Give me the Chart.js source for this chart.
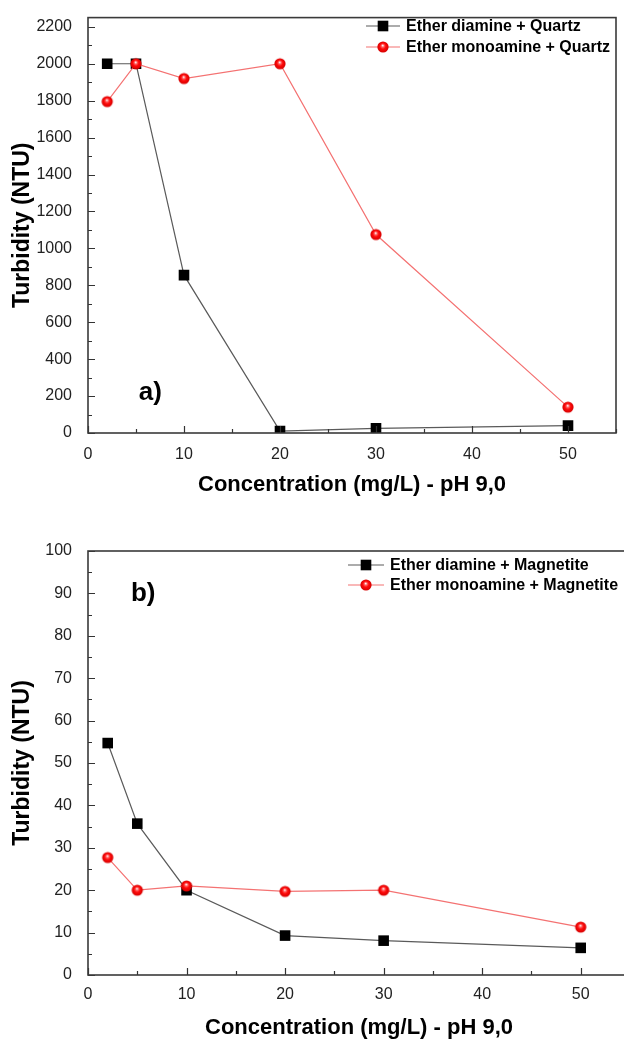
<!DOCTYPE html>
<html><head><meta charset="utf-8">
<script src="https://cdn.jsdelivr.net/npm/chart.js@4"></script>
<style>
html,body{margin:0;padding:0;background:#fff;overflow:hidden;width:624px;height:1039px;}
#wa{position:absolute;left:0;top:0;width:624px;height:520px;overflow:hidden;}
#wb{position:absolute;left:0;top:520px;width:640px;height:540px;}
</style></head><body>
<div id="wa"><canvas id="ca" width="624" height="520"></canvas></div>
<div id="wb"><canvas id="cb" width="640" height="540"></canvas></div>
<script>
// ---- data ----
const concentrations = [2, 5, 10, 20, 30, 50];
const quartzDiamine = [2000, 2000, 855, 10, 25, 40];
const quartzMonoamine = [1795, 2000, 1920, 2000, 1075, 140];
const magnetiteDiamine = [54.7, 35.7, 20.0, 9.3, 8.1, 6.4];
const magnetiteMonoamine = [27.7, 20.0, 21.0, 19.7, 20.0, 11.3];
const seriesLabelsA = ['Ether diamine + Quartz', 'Ether monoamine + Quartz'];
const seriesLabelsB = ['Ether diamine + Magnetite', 'Ether monoamine + Magnetite'];
const xTickValues = [0, 10, 20, 30, 40, 50];
const yTickValuesA = [0, 200, 400, 600, 800, 1000, 1200, 1400, 1600, 1800, 2000, 2200];
const yTickValuesB = [0, 10, 20, 30, 40, 50, 60, 70, 80, 90, 100];
const xTitle = 'Concentration (mg/L) - pH 9,0';
const yTitle = 'Turbidity (NTU)';
const panelLabels = ['a)', 'b)'];

const FONT = '"Liberation Sans", Arial, sans-serif';

function sphere(r) {
  const c = document.createElement('canvas');
  const s = Math.ceil(r * 2 + 2);
  c.width = s; c.height = s;
  const g = c.getContext('2d');
  const cx = s / 2, cy = s / 2;
  const grad = g.createRadialGradient(cx - 0.3, cy - 1.6, 0.3, cx, cy, r);
  grad.addColorStop(0, '#fff0f0');
  grad.addColorStop(0.22, '#ff6060');
  grad.addColorStop(0.5, '#ff0a0a');
  grad.addColorStop(1, '#d40000');
  g.fillStyle = grad;
  g.beginPath(); g.arc(cx, cy, r, 0, Math.PI * 2); g.fill();
  return c;
}
const ball = sphere(5.6);

function pts(ys) { return concentrations.map((x, i) => ({x: x, y: ys[i]})); }

const decor = {
  id: 'decor',
  afterDatasetsDraw(chart, args, o) {
    const ctx = chart.ctx, a = chart.chartArea, xs = chart.scales.x, ys = chart.scales.y;
    ctx.save();
    ctx.strokeStyle = '#333'; ctx.lineWidth = 1.2;
    ctx.beginPath();
    const isMajor = (v, m) => Math.abs(v / m - Math.round(v / m)) < 1e-6;
    for (let k = 0; k * o.xMinor <= xs.max + 1e-9; k++) {
      const v = xs.min + k * o.xMinor;
      const px = Math.round(xs.getPixelForValue(v)) + 0.5;
      const len = isMajor(v, o.xMajor) ? 7 : 4;
      ctx.moveTo(px, a.bottom); ctx.lineTo(px, a.bottom - len);
    }
    for (let k = 0; k * o.yMinor <= ys.max + 1e-9; k++) {
      const v = ys.min + k * o.yMinor;
      const py = Math.round(ys.getPixelForValue(v)) + 0.5;
      const len = isMajor(v, o.yMajor) ? 7 : 4;
      ctx.moveTo(a.left, py); ctx.lineTo(a.left + len, py);
    }
    ctx.stroke();
    ctx.lineWidth = 1.6; ctx.strokeStyle = '#3a3a3a';
    ctx.strokeRect(a.left, a.top, a.right - a.left, a.bottom - a.top);
    // panel label
    ctx.fillStyle = '#000';
    ctx.font = 'bold 26px ' + FONT;
    ctx.textAlign = 'center'; ctx.textBaseline = 'middle';
    ctx.fillText(o.panel, xs.getPixelForValue(o.panelX), ys.getPixelForValue(o.panelY));
    // legend
    ctx.font = 'bold 16px ' + FONT;
    ctx.textAlign = 'left';
    chart.data.datasets.forEach((ds, i) => {
      const y = o.legY + i * o.legRow;
      ctx.strokeStyle = ds.borderColor; ctx.lineWidth = ds.borderWidth;
      ctx.beginPath(); ctx.moveTo(o.legX, y); ctx.lineTo(o.legX + o.legLen, y); ctx.stroke();
      const mx = o.legX + o.legLen / 2;
      if (typeof ds.pointStyle === 'object') {
        ctx.drawImage(ds.pointStyle, mx - ds.pointStyle.width / 2, y - ds.pointStyle.height / 2);
      } else {
        const s = ds.pointRadius * Math.SQRT1_2;
        ctx.fillStyle = ds.pointBackgroundColor;
        ctx.fillRect(mx - s, y - s, 2 * s, 2 * s);
      }
      ctx.fillStyle = '#000';
      ctx.fillText(ds.label, o.legX + o.legLen + o.legGap, y + 1);
    });
    ctx.restore();
  }
};

function makeChart(id, labels, blackVals, redVals, yTicks, sc) {
  return new Chart(document.getElementById(id), {
    type: 'line',
    data: {
      datasets: [
        { label: labels[0], data: pts(blackVals), borderColor: '#5a5a5a', borderWidth: 1.2,
          pointStyle: 'rect', pointRadius: 7.5, pointBackgroundColor: '#000', pointBorderColor: '#000',
          pointBorderWidth: 0, order: 1 },
        { label: labels[1], data: pts(redVals), borderColor: '#f47272', borderWidth: 1.2,
          pointStyle: ball, pointRadius: 5.6, pointBackgroundColor: '#f00', order: 0 }
      ]
    },
    options: {
      responsive: false, animation: false, devicePixelRatio: 1,
      layout: { padding: { top: sc.padTop, right: sc.padRight, left: 0, bottom: 0 } },
      plugins: { legend: { display: false }, tooltip: { enabled: false }, decor: sc.decor },
      scales: {
        x: {
          type: 'linear', min: 0, max: 55,
          grid: { display: false }, border: { display: false },
          ticks: { padding: sc.xTickPad, color: '#222', font: { family: FONT, size: 16 },
                   callback: v => String(v) },
          afterBuildTicks: s => { s.ticks = xTickValues.map(v => ({ value: v })); },
          afterFit: s => { s.height = sc.xHeight; },
          title: { display: true, text: xTitle, color: '#000', padding: { top: 0, bottom: sc.xTitlePad },
                   font: { family: FONT, size: 22, weight: 'bold' } }
        },
        y: {
          type: 'linear', min: 0, max: sc.yMax,
          grid: { display: false }, border: { display: false },
          ticks: { padding: 8, color: '#222', font: { family: FONT, size: 16 },
                   callback: v => String(v) },
          afterBuildTicks: s => { s.ticks = yTicks.map(v => ({ value: v })); },
          afterFit: s => { s.width = 88; },
          title: { display: true, text: yTitle, color: '#000', padding: { top: 9, bottom: 0 },
                   font: { family: FONT, size: 23, weight: 'bold' } }
        }
      }
    },
    plugins: [decor]
  });
}

makeChart('ca', seriesLabelsA, quartzDiamine, quartzMonoamine, yTickValuesA, {
  padTop: 12, padRight: 8, xHeight: 87, xTickPad: 4, xTitlePad: 22, yMax: 2250,
  decor: { xMinor: 5, xMajor: 10, yMinor: 100, yMajor: 200, panel: panelLabels[0], panelX: 6.5, panelY: 220,
           legX: 366, legY: 26, legRow: 21, legLen: 34, legGap: 6 }
});
makeChart('cb', seriesLabelsB, magnetiteDiamine, magnetiteMonoamine, yTickValuesB, {
  padTop: 31, padRight: 10, xHeight: 85, xTickPad: 2, xTitlePad: 19, yMax: 100,
  decor: { xMinor: 5, xMajor: 10, yMinor: 5, yMajor: 10, panel: panelLabels[1], panelX: 5.6, panelY: 90,
           legX: 348, legY: 45, legRow: 20, legLen: 36, legGap: 6 }
});
</script>
</body></html>
